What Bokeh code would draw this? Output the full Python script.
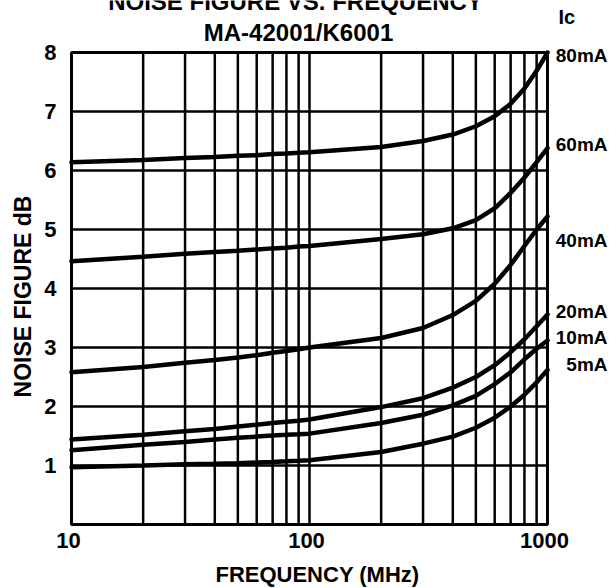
from bokeh.plotting import figure
from bokeh.models import Range1d
from bokeh.core.properties import value
from bokeh.embed import file_html
from bokeh.resources import INLINE
import math

# ---- data ----
freq = [10, 20, 30, 40, 50, 60, 70, 80, 90, 100, 200, 300, 400, 500, 600, 700, 800, 900, 1000]
nf_80ma = [6.14, 6.18, 6.21, 6.23, 6.25, 6.26, 6.28, 6.29, 6.30, 6.31, 6.40, 6.50, 6.61, 6.75, 6.92, 7.13, 7.39, 7.69, 8.00]
nf_60ma = [4.46, 4.54, 4.59, 4.62, 4.64, 4.66, 4.68, 4.69, 4.71, 4.72, 4.84, 4.92, 5.02, 5.16, 5.36, 5.62, 5.88, 6.14, 6.38]
nf_40ma = [2.58, 2.67, 2.74, 2.79, 2.83, 2.87, 2.91, 2.94, 2.97, 3.00, 3.16, 3.33, 3.55, 3.79, 4.08, 4.40, 4.72, 5.00, 5.22]
nf_20ma = [1.44, 1.52, 1.58, 1.62, 1.66, 1.69, 1.72, 1.74, 1.76, 1.78, 1.99, 2.14, 2.32, 2.50, 2.70, 2.92, 3.14, 3.36, 3.56]
nf_10ma = [1.26, 1.35, 1.40, 1.44, 1.47, 1.49, 1.51, 1.52, 1.53, 1.54, 1.72, 1.86, 2.02, 2.18, 2.38, 2.58, 2.80, 2.98, 3.12]
nf_5ma = [0.97, 1.00, 1.02, 1.03, 1.04, 1.05, 1.06, 1.07, 1.08, 1.09, 1.23, 1.37, 1.49, 1.64, 1.81, 2.00, 2.20, 2.41, 2.62]

series_names = ["80mA", "60mA", "40mA", "20mA", "10mA", "5mA"]
series_vals = [nf_80ma, nf_60ma, nf_40ma, nf_20ma, nf_10ma, nf_5ma]
label_y = [7.95, 6.44, 4.81, 3.61, 3.17, 2.71]

x_min, x_max = 10, 1000
y_min, y_max = 0, 8
x_ticks = [10, 100, 1000]
x_tick_labels = ["10", "100", "1000"]
x_grid = [20, 30, 40, 50, 60, 70, 80, 90, 100, 200, 300, 400, 500, 600, 700, 800, 900]
y_ticks = [1, 2, 3, 4, 5, 6, 7, 8]
y_tick_labels = ["1", "2", "3", "4", "5", "6", "7", "8"]
y_grid = [1, 2, 3, 4, 5, 6, 7]

title = "NOISE FIGURE VS. FREQUENCY"
subtitle = "MA-42001/K6001"
x_title = "FREQUENCY (MHz)"
y_title = "NOISE FIGURE dB"
legend_head = "Ic"

# ---- layout geometry (canvas pixels) ----
W, H = 616, 588
FL, FR, FT, FB = 71, 547, 52, 524          # plotting frame
DEC = (FR - FL) / math.log10(x_max / x_min)  # px per decade
UNIT = (FB - FT) / (y_max - y_min)           # px per dB


def px_to_x(px):
    return 10 ** (math.log10(x_min) + (px - FL) / DEC)


def py_to_y(py):
    return y_max - (py - FT) / UNIT


FONT = value("Liberation Sans")

p = figure(width=W, height=H, x_axis_type="log",
           x_range=Range1d(px_to_x(0), px_to_x(W)), y_range=Range1d(py_to_y(H), py_to_y(0)),
           output_backend="svg", toolbar_location=None,
           min_border_left=0, min_border_right=0, min_border_top=0, min_border_bottom=0)
p.axis.visible = False
p.grid.visible = False
p.outline_line_color = None
p.background_fill_color = "white"
p.border_fill_color = "white"

# grid lines
p.segment(x0=x_grid, y0=[y_min] * len(x_grid), x1=x_grid, y1=[y_max] * len(x_grid),
          line_color="black", line_width=2.5)
p.segment(x0=[x_min] * len(y_grid), y0=y_grid, x1=[x_max] * len(y_grid), y1=y_grid,
          line_color="black", line_width=2.5)
# frame
p.quad(left=[x_min], right=[x_max], bottom=[y_min], top=[y_max],
       fill_color=None, line_color="black", line_width=3)

# curves
for name, vals in zip(series_names, series_vals):
    p.line(freq, vals, line_color="black", line_width=4.5, line_cap="round")

# tick labels
shift = 10 ** (-3 / DEC)
p.text(x=[t * shift for t in x_ticks], y=[py_to_y(540)] * len(x_ticks), text=x_tick_labels,
       text_align="center", text_baseline="middle", text_font=FONT,
       text_font_style="bold", text_font_size="22px", text_color="black")
p.text(x=[px_to_x(56)] * len(y_ticks), y=y_ticks, text=y_tick_labels,
       text_align="right", text_baseline="middle", text_font=FONT,
       text_font_style="bold", text_font_size="22px", text_color="black")

# right-hand series labels
p.text(x=[px_to_x(607)] * len(series_names), y=label_y, text=series_names,
       text_align="right", text_baseline="middle", text_font=FONT,
       text_font_style="bold", text_font_size="19px", text_color="black")
p.text(x=[px_to_x(558)], y=[py_to_y(16)], text=[legend_head],
       text_align="left", text_baseline="middle", text_font=FONT,
       text_font_style="bold", text_font_size="20px", text_color="black")

# titles
p.text(x=[px_to_x(295)], y=[py_to_y(1)], text=[title],
       text_align="center", text_baseline="middle", text_font=FONT,
       text_font_style="bold", text_font_size="24px", text_color="black")
p.text(x=[px_to_x(298)], y=[py_to_y(32)], text=[subtitle],
       text_align="center", text_baseline="middle", text_font=FONT,
       text_font_style="bold", text_font_size="24px", text_color="black")
p.text(x=[px_to_x(317)], y=[py_to_y(574)], text=[x_title],
       text_align="center", text_baseline="middle", text_font=FONT,
       text_font_style="bold", text_font_size="22px", text_color="black")
p.text(x=[px_to_x(22)], y=[py_to_y(296)], text=[y_title], angle=math.pi / 2,
       text_align="center", text_baseline="middle", text_font=FONT,
       text_font_style="bold", text_font_size="23px", text_color="black")

open("out.html", "w").write(file_html(p, INLINE))
